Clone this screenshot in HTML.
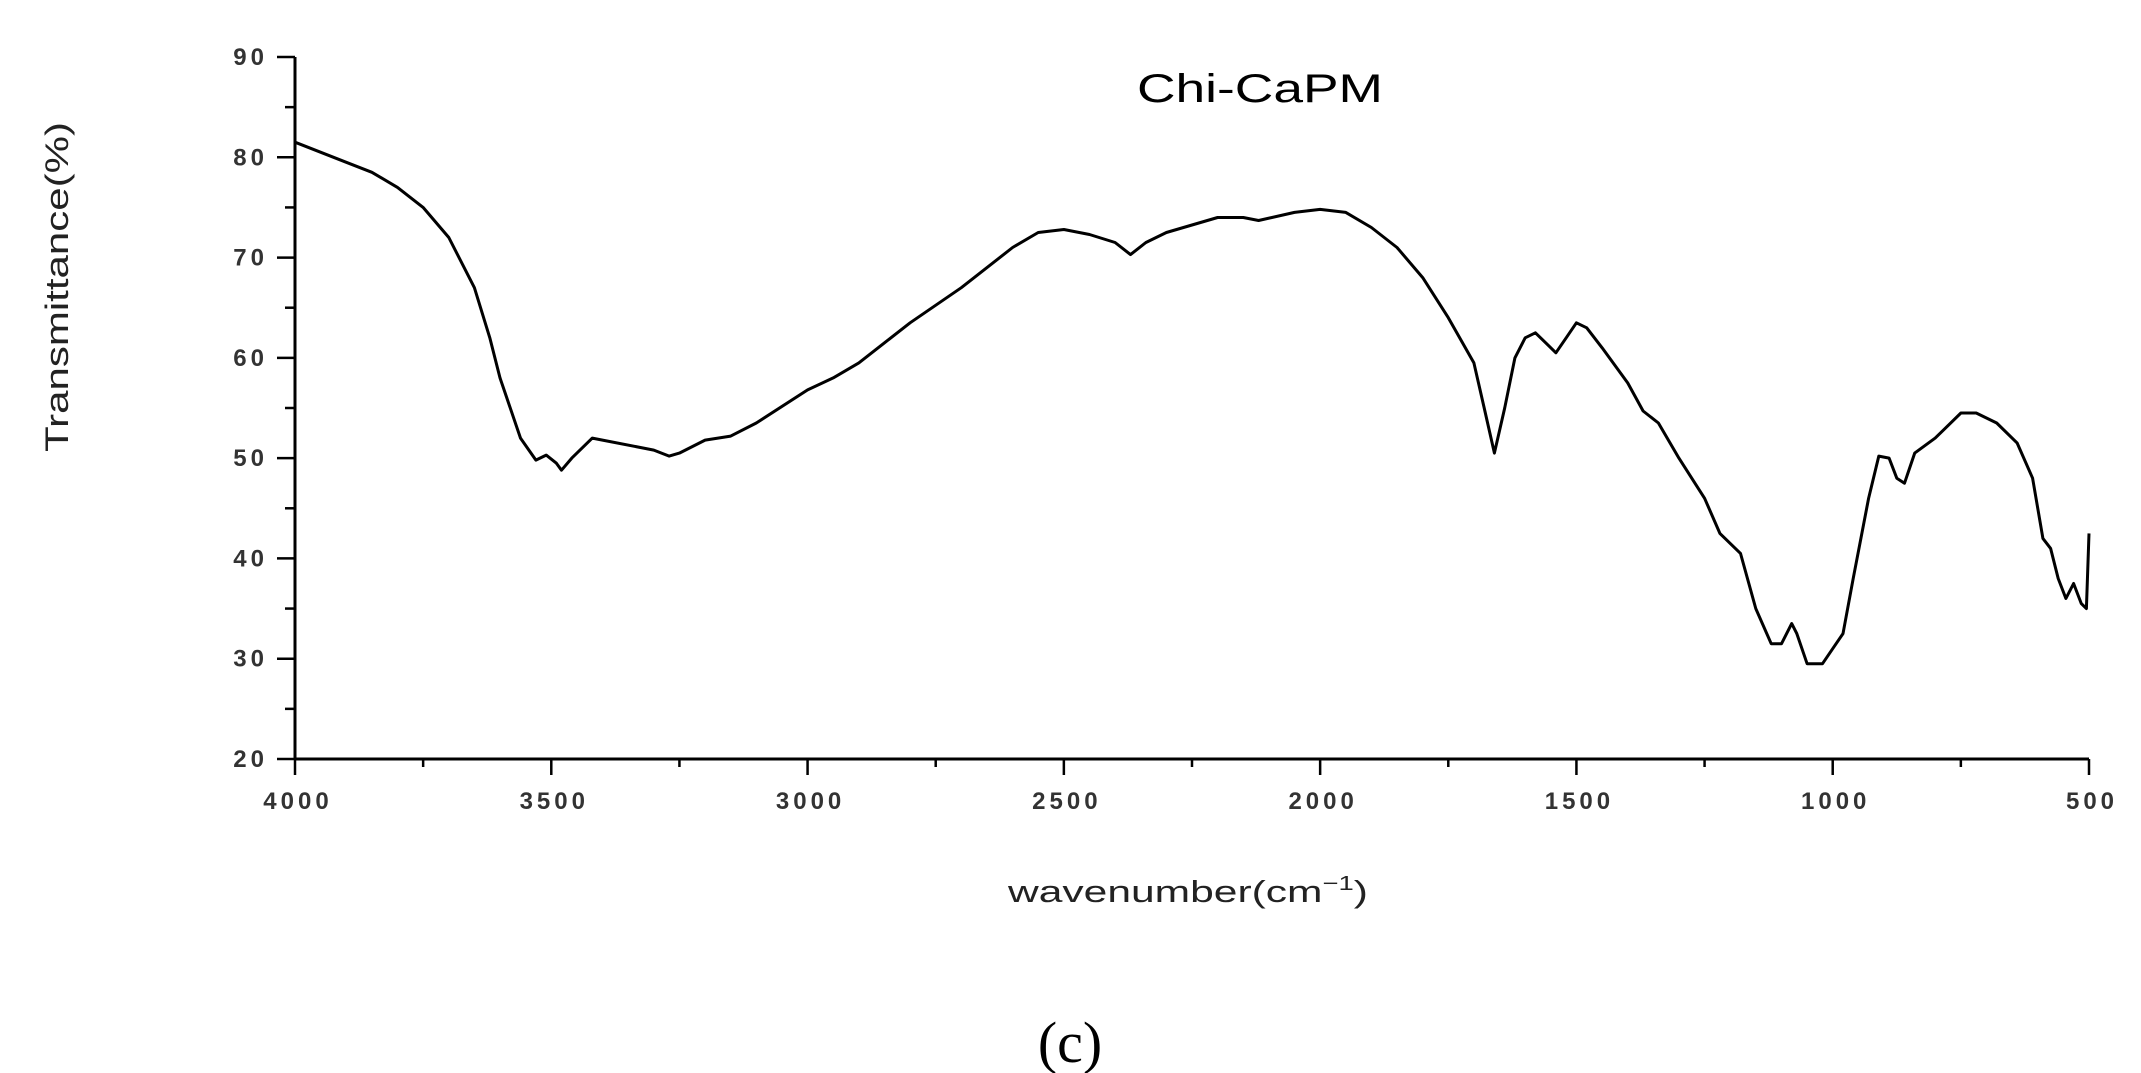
<!DOCTYPE html>
<html><head><meta charset="utf-8"><style>
html,body{margin:0;padding:0;background:#fff;}
svg{display:block;}
text{font-family:"Liberation Sans",sans-serif;fill:#222;}
</style></head><body>
<svg id="chart" width="2141" height="1073" viewBox="0 0 2141 1073" xmlns="http://www.w3.org/2000/svg">
<g id="axes"></g>
<path id="spectrum" fill="none" stroke="#000" stroke-width="3" stroke-linejoin="round"/>
<text x="1260" y="102" font-size="40" text-anchor="middle" textLength="246" lengthAdjust="spacingAndGlyphs" style="fill:#000">Chi-CaPM</text>
<text transform="translate(68,287) rotate(-90)" font-size="32" text-anchor="middle" textLength="330" lengthAdjust="spacingAndGlyphs">Transmittance(%)</text>
<text x="1188" y="902" font-size="31" text-anchor="middle" textLength="360" lengthAdjust="spacingAndGlyphs">wavenumber(cm<tspan font-size="20" dy="-12">−1</tspan><tspan dy="12">)</tspan></text>
<text x="1070" y="1062" font-size="58" text-anchor="middle" style="font-family:'Liberation Serif',serif;fill:#000">(c)</text>
</svg>
<script>
const wavenumbers=[4000,3900,3850,3800,3750,3700,3650,3620,3600,3560,3530,3510,3490,3480,3460,3420,3400,3300,3270,3250,3200,3150,3100,3000,2950,2900,2850,2800,2700,2600,2550,2500,2450,2400,2370,2340,2300,2200,2150,2120,2050,2000,1950,1900,1850,1800,1750,1700,1680,1660,1640,1620,1600,1580,1560,1540,1520,1500,1480,1450,1400,1370,1340,1300,1250,1220,1180,1150,1120,1100,1080,1070,1050,1020,1000,980,960,930,910,890,875,860,840,800,780,750,720,680,640,610,590,575,560,545,530,515,505,500];
const transmittance=[81.5,79.5,78.5,77,75,72,67,62,58,52,49.8,50.3,49.5,48.8,50,52,51.8,50.8,50.2,50.5,51.8,52.2,53.5,56.8,58,59.5,61.5,63.5,67,71,72.5,72.8,72.3,71.5,70.3,71.5,72.5,74,74,73.7,74.5,74.8,74.5,73,71,68,64,59.5,55,50.5,55,60,62,62.5,61.5,60.5,62,63.5,63,61,57.5,54.7,53.5,50,46,42.5,40.5,35,31.5,31.5,33.5,32.5,29.5,29.5,31,32.5,38,46,50.2,50,48,47.5,50.5,52,53,54.5,54.5,53.5,51.5,48,42,41,38,36,37.5,35.5,35,42.5];
const yTicks=[20,30,40,50,60,70,80,90];
const xTicks=[4000,3500,3000,2500,2000,1500,1000,500];
const X0=295,X1=2089,Y90=57,Y20=759;
const xs=v=>X0+(4000-v)/3500*(X1-X0);
const ys=v=>Y20-(v-20)/70*(Y20-Y90);
const NS="http://www.w3.org/2000/svg";
const axes=document.getElementById('axes');
function mk(tag,attrs,parent){const e=document.createElementNS(NS,tag);for(const k in attrs)e.setAttribute(k,attrs[k]);parent.appendChild(e);return e;}
const ya=mk('line',{x1:X0,y1:Y90,x2:X0,y2:Y20,stroke:'#000','stroke-width':3},axes);


const xa=mk('line',{x1:X0,y1:Y20,x2:X1,y2:Y20,stroke:'#000','stroke-width':3},axes);


for(let v=20;v<=90;v+=5){
  const major=v%10===0;
  const t=mk('line',{x1:X0-(major?18:10),y1:ys(v),x2:X0,y2:ys(v),stroke:'#000','stroke-width':2.5},axes);
  
  
}
yTicks.forEach(v=>{
  const t=mk('text',{x:268,y:ys(v)+8,'font-size':24,'text-anchor':'end','letter-spacing':'4',style:'font-weight:600;fill:#333'},axes);
  t.textContent=v;
  
  
});
for(let v=4000;v>=500;v-=250){
  const major=v%500===0;
  const t=mk('line',{x1:xs(v),y1:Y20,x2:xs(v),y2:Y20+(major?16:8),stroke:'#000','stroke-width':2.5},axes);
  
  
}
xTicks.forEach(v=>{
  const t=mk('text',{x:xs(v)+3,y:Y20+50,'font-size':24,'text-anchor':'middle','letter-spacing':'4',style:'font-weight:600;fill:#333'},axes);
  t.textContent=v;
  
  
});
document.getElementById('spectrum').setAttribute('d',wavenumbers.map((w,i)=>(i?'L':'M')+xs(w).toFixed(1)+','+ys(transmittance[i]).toFixed(1)).join(''));
</script>
</body></html>
